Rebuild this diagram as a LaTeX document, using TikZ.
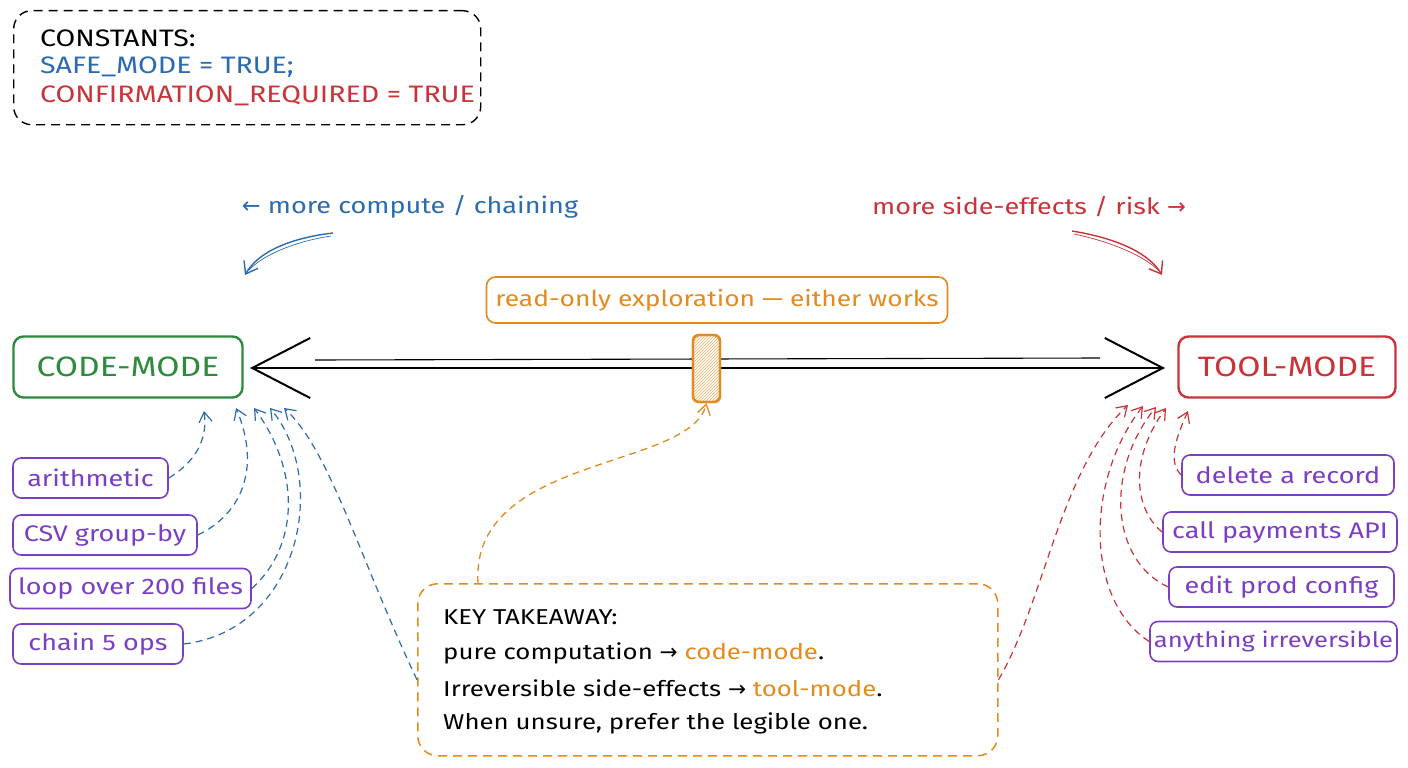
\documentclass[tikz,border=0pt]{standalone}
\usepackage{fontspec}
\setmainfont{Fira Sans}[FakeStretch=1.2]
\newfontfamily\arr{DejaVu Sans}
\usetikzlibrary{arrows.meta,patterns}
\definecolor{cblue}{HTML}{2B6CB0}
\definecolor{cred}{HTML}{C9343A}
\definecolor{cgreen}{HTML}{2E8B3E}
\definecolor{cpurple}{HTML}{7B3FC4}
\definecolor{corange}{HTML}{E38B1F}
\begin{document}
\begin{tikzpicture}[x=1pt,y=-1pt,
  lbl/.style={font=\fontsize{22.5}{26}\selectfont},
  pbox/.style={draw=cpurple, rounded corners=8pt, line width=1.6pt, text=cpurple,
     font=\fontsize{22.5}{26}\selectfont, inner sep=0pt, minimum height=40pt},
  mode/.style={rounded corners=10pt, line width=2.4pt, inner sep=0pt,
     font=\fontsize{28}{32}\selectfont, minimum height=61pt},
  bdash/.style={draw=cblue, dashed, dash pattern=on 7pt off 5pt, line width=1.2pt,
     -{Straight Barb[length=10pt,width=13pt]}},
  rdash/.style={draw=cred, dashed, dash pattern=on 7pt off 5pt, line width=1.2pt,
     -{Straight Barb[length=10pt,width=13pt]}},
]
\useasboundingbox (0,0) rectangle (1408,768);
\fill[white] (0,0) rectangle (1408,768);

% constants box
\node[draw=black, dashed, dash pattern=on 9pt off 6pt, rounded corners=18pt, line width=1.4pt,
  minimum width=467pt, minimum height=114pt, anchor=north west] (const) at (13,10) {};
\begin{scope}[every node/.style={font=\fontsize{23.8}{27}\selectfont, anchor=west, inner sep=0pt}]
\node[text=black] (c1) at (40,38) {CONSTANTS:};
\node[text=cblue] (c2) at (40,67) {SAFE\_MODE = TRUE;};
\node[text=cred] (c3) at (40,96) {CONFIRMATION\_REQUIRED = TRUE};
\end{scope}

% direction labels
\node[lbl, text=cblue] (ltxt) at (410,207) {{\arr ←} more compute / chaining};
\node[lbl, text=cred] (rtxt) at (1029,207) {more side-effects / risk {\arr →}};
\coordinate (la) at (333,233);
\coordinate (lb) at (245,275);
\coordinate (ra) at (1072,231);
\coordinate (rb) at (1162,275);
\draw[cblue, line width=1.4pt, -{Straight Barb[length=11pt,width=16pt]}] (la) .. controls (290,238) and (258,252) .. (lb);
\draw[cblue, line width=0.7pt] (331,236) .. controls (292,242) and (262,256) .. (249,270);
\draw[cred, line width=1.4pt, -{Straight Barb[length=11pt,width=16pt]}] (ra) .. controls (1115,238) and (1148,252) .. (rb);
\draw[cred, line width=0.7pt] (1074,234) .. controls (1112,242) and (1144,256) .. (1158,270);

% read-only box
\node[draw=corange, rounded corners=9pt, line width=1.6pt, text=corange, font=\fontsize{22}{26}\selectfont,
  minimum width=461pt, minimum height=46pt, inner sep=0pt] (ro) at (717,300) {read-only exploration — either works};

% mode boxes
\node[mode, draw=cgreen, text=cgreen, minimum width=229pt] (code) at (128,367) {CODE-MODE};
\node[mode, draw=cred, text=cred, minimum width=217pt] (tool) at (1287,367) {TOOL-MODE};

% main axis
\coordinate (al) at (250,368);
\coordinate (ar) at (1165,368);
\coordinate (sl) at (315,360);
\coordinate (sr) at (1100,358);
\draw[black, line width=2pt, {Straight Barb[length=58pt,width=60pt]}-{Straight Barb[length=58pt,width=60pt]}] (al) -- (ar);
\draw[black, line width=1.1pt] (sl) -- (sr);

% knob
\node[draw=corange, line width=2.4pt, rounded corners=6pt, fill=white,
  minimum width=27pt, minimum height=67pt, inner sep=0pt] (knobbg) at (706.5,368.5) {};
\node[draw=corange, line width=2.4pt, rounded corners=6pt,
  pattern=north east lines, pattern color=corange!70,
  minimum width=27pt, minimum height=67pt, inner sep=0pt] (knob) at (706.5,368.5) {};

% left items
\node[pbox, minimum width=155pt] (a1) at (90.5,478) {arithmetic};
\node[pbox, minimum width=184pt] (a2) at (105,535) {CSV group-by};
\node[pbox, minimum width=241pt] (a3) at (130.5,588.5) {loop over 200 files};
\node[pbox, minimum width=170pt] (a4) at (98,644) {chain 5 ops};

% right items
\node[pbox, minimum width=212pt] (b1) at (1288,475) {delete a record};
\node[pbox, minimum width=234pt] (b2) at (1280,532) {call payments API};
\node[pbox, minimum width=225pt] (b3) at (1281.5,587) {edit prod config};
\node[pbox, minimum width=247pt, font=\fontsize{21.3}{26}\selectfont] (b4) at (1273.5,641.5) {anything irreversible};

% takeaway
\node[draw=corange, dashed, dash pattern=on 9pt off 6pt, rounded corners=20pt, line width=1.5pt,
  minimum width=580pt, minimum height=172pt, anchor=north west] (key) at (417,583) {};
\begin{scope}[every node/.style={font=\fontsize{21.5}{26}\selectfont, anchor=west, text=black, inner sep=0pt}]
\node (k1) at (443,617) {KEY TAKEAWAY:};
\node (k2) at (443,653) {pure computation {\arr →} \textcolor{corange}{code-mode}.};
\node (k3) at (443,688) {Irreversible side-effects {\arr →} \textcolor{corange}{tool-mode}.};
\node (k4) at (443,723) {When unsure, prefer the legible one.};
\end{scope}

% blue dashed arrows
\coordinate (h1) at (204,411);
\coordinate (h2) at (236,408);
\coordinate (h3) at (254,408);
\coordinate (h4) at (270,408);
\coordinate (h5) at (284,408);
\draw[bdash] (a1.east) .. controls (195,462) and (208,440) .. (h1);
\draw[bdash] (a2.east) .. controls (240,515) and (262,470) .. (h2);
\draw[bdash] (a3.east) .. controls (300,545) and (300,470) .. (h3);
\draw[bdash] (a4.east) .. controls (300,630) and (330,480) .. (h4);
\draw[bdash] ([yshift=-10pt]key.west) .. controls (360,560) and (330,450) .. (h5);

% red dashed arrows
\coordinate (r1) at (1188,411);
\coordinate (r2) at (1166,408);
\coordinate (r3) at (1156,407);
\coordinate (r4) at (1143,406);
\coordinate (r5) at (1128,405);
\draw[rdash] (b1.west) .. controls (1168,462) and (1175,440) .. (r1);
\draw[rdash] (b2.west) .. controls (1135,510) and (1128,460) .. (r2);
\draw[rdash] (b3.west) .. controls (1110,560) and (1105,470) .. (r3);
\draw[rdash] (b4.west) .. controls (1085,600) and (1085,480) .. (r4);
\draw[rdash] ([yshift=-10pt]key.east) .. controls (1045,600) and (1060,470) .. (r5);

% orange dashed arrow
\coordinate (kt) at (478,583);
\draw[draw=corange, dashed, dash pattern=on 7pt off 5pt, line width=1.3pt,
  -{Straight Barb[length=10pt,width=13pt]}] (kt) .. controls (470,455) and (690,470) .. (knob.south);
\end{tikzpicture}
\end{document}
